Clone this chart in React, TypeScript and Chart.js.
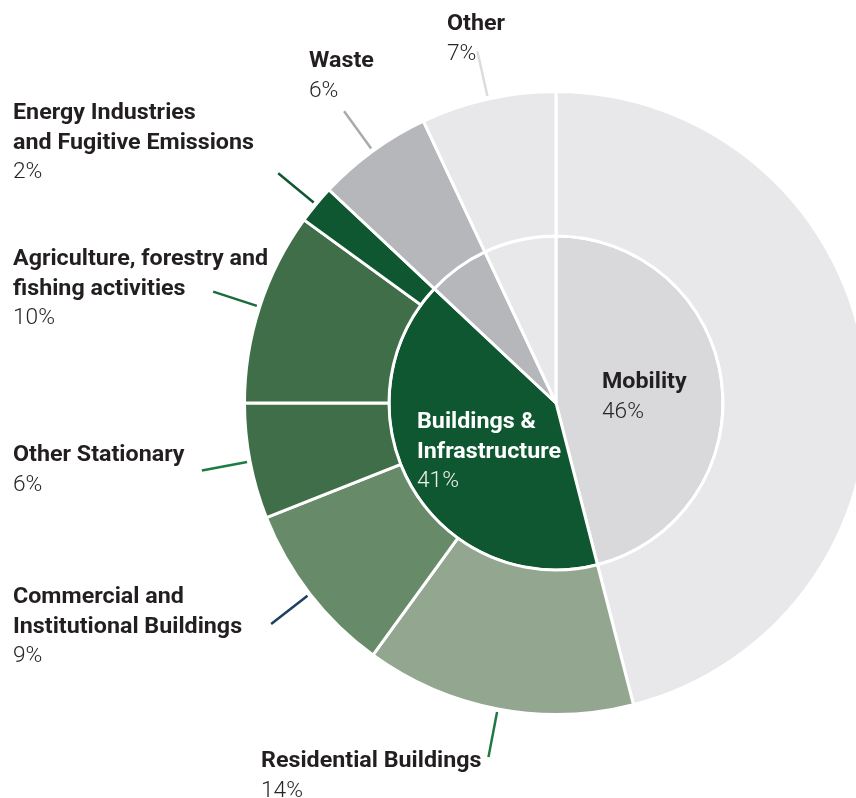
import { useEffect, useRef } from 'react';
import { Chart, registerables } from 'chart.js';

Chart.register(...registerables);

// ---- Data ----
const sectorNames = [
  'Mobility',
  'Residential Buildings',
  'Commercial and Institutional Buildings',
  'Other Stationary',
  'Agriculture, forestry and fishing activities',
  'Energy Industries and Fugitive Emissions',
  'Waste',
  'Other',
];
const sectorValues = [46, 14, 9, 6, 10, 2, 6, 7];

const groupNames = ['Mobility', 'Buildings & Infrastructure', 'Waste', 'Other'];
const groupValues = [46, 41, 6, 7];

// Wrapped label text (display lines) per slice
const sectorLabelLines: (string[] | null)[] = [
  null,
  ['Residential Buildings'],
  ['Commercial and', 'Institutional Buildings'],
  ['Other Stationary'],
  ['Agriculture, forestry and', 'fishing activities'],
  ['Energy Industries', 'and Fugitive Emissions'],
  ['Waste'],
  ['Other'],
];
const groupLabelLines: (string[] | null)[] = [
  ['Mobility'],
  ['Buildings &', 'Infrastructure'],
  null,
  null,
];

// ---- Styles ----
const sectorColors = ['#e8e8ea', '#93a690', '#678a69', '#406e49', '#406e49', '#0f5731', '#b6b7ba', '#e8e8ea'];
const groupColors = ['#d9d9db', '#0f5731', '#b6b7ba', '#e8e8ea'];
const leaderColors = [null, '#1e7a42', '#1c3f63', '#1f7a44', '#1d6b3c', '#0f5731', '#a9aaad', '#dcdcde'];

// text anchor (left x, first baseline y)
const sectorLabelPos: ({ x: number; y: number } | null)[] = [
  null,
  { x: 261, y: 767 },
  { x: 13, y: 603 },
  { x: 13, y: 461 },
  { x: 13, y: 265 },
  { x: 13, y: 119 },
  { x: 309, y: 67 },
  { x: 447, y: 30 },
];
const groupLabelPos: ({ x: number; y: number; light?: boolean } | null)[] = [
  { x: 602, y: 388 },
  { x: 417, y: 428, light: true },
  null,
  null,
];

const LINE_H = 29.5;
const FONT_SIZE = 22;
const BOLD = `700 ${FONT_SIZE}px Roboto, "Noto Sans", sans-serif`;
const LIGHT = `300 ${FONT_SIZE}px Roboto, "Noto Sans", sans-serif`;

function drawText(ctx: CanvasRenderingContext2D, text: string, x: number, y: number, font: string, color: string, sx: number) {
  ctx.save();
  ctx.font = font;
  ctx.fillStyle = color;
  ctx.textAlign = 'left';
  ctx.textBaseline = 'alphabetic';
  ctx.translate(x, y);
  ctx.scale(sx, 1);
  ctx.fillText(text, 0, 0);
  ctx.restore();
}

const labelPlugin = {
  id: 'sunburstLabels',
  afterDatasetsDraw(chart: any) {
    const ctx: CanvasRenderingContext2D = chart.ctx;
    ctx.save();
    ctx.font = BOLD;
    const sxB = 241 / ctx.measureText('and Fugitive Emissions').width;
    ctx.font = LIGHT;
    const sxL = 42 / ctx.measureText('46%').width;

    const outerMeta = chart.getDatasetMeta(0);
    outerMeta.data.forEach((arc: any, i: number) => {
      const lines = sectorLabelLines[i];
      const pos = sectorLabelPos[i];
      if (!lines || !pos) return;
      const p = arc.getProps(['x', 'y', 'startAngle', 'endAngle', 'outerRadius'], true);
      const mid = (p.startAngle + p.endAngle) / 2;
      const r1 = p.outerRadius + 3;
      const r2 = p.outerRadius + 49;
      ctx.beginPath();
      ctx.moveTo(p.x + Math.cos(mid) * r1, p.y + Math.sin(mid) * r1);
      ctx.lineTo(p.x + Math.cos(mid) * r2, p.y + Math.sin(mid) * r2);
      ctx.strokeStyle = leaderColors[i] || '#999';
      ctx.lineWidth = 2.5;
      ctx.stroke();
      lines.forEach((t, k) => drawText(ctx, t, pos.x, pos.y + k * LINE_H, BOLD, '#231f20', sxB));
      drawText(ctx, `${sectorValues[i]}%`, pos.x, pos.y + lines.length * LINE_H, LIGHT, '#262626', sxL);
    });

    groupLabelLines.forEach((lines, i) => {
      const pos = groupLabelPos[i];
      if (!lines || !pos) return;
      const main = pos.light ? '#ffffff' : '#231f20';
      const sub = pos.light ? '#eef2ee' : '#262626';
      lines.forEach((t, k) => drawText(ctx, t, pos.x, pos.y + k * LINE_H, BOLD, main, sxB));
      drawText(ctx, `${groupValues[i]}%`, pos.x, pos.y + lines.length * LINE_H, LIGHT, sub, sxL);
    });
    ctx.restore();
  },
};

export default function App() {
  const ref = useRef<HTMLCanvasElement>(null);
  useEffect(() => {
    if (!ref.current) return;
    const chart = new Chart(ref.current, {
      type: 'doughnut',
      data: {
        labels: sectorNames,
        datasets: [
          {
            label: 'Sectors',
            data: sectorValues,
            backgroundColor: sectorColors,
            borderColor: '#ffffff',
            borderWidth: 3,
            weight: 144.5,
          } as any,
          {
            label: 'Groups',
            data: groupValues,
            backgroundColor: groupColors,
            borderColor: '#ffffff',
            borderWidth: 3,
            weight: 167,
          } as any,
        ],
      },
      options: {
        responsive: false,
        animation: false,
        cutout: 0,
        layout: { padding: { top: 90, bottom: 88, left: 0, right: 0 } },
        plugins: {
          legend: { display: false },
          tooltip: { enabled: false },
        },
      },
      plugins: [labelPlugin],
    });
    return () => chart.destroy();
  }, []);

  return (
    <div
      style={{
        position: 'fixed',
        left: 0,
        top: 0,
        width: 856,
        height: 798,
        overflow: 'hidden',
        background: '#ffffff',
      }}
    >
      <canvas
        ref={ref}
        width={1112}
        height={804}
        style={{ position: 'absolute', left: 0, top: 0, width: 1112, height: 804 }}
      />
    </div>
  );
}
